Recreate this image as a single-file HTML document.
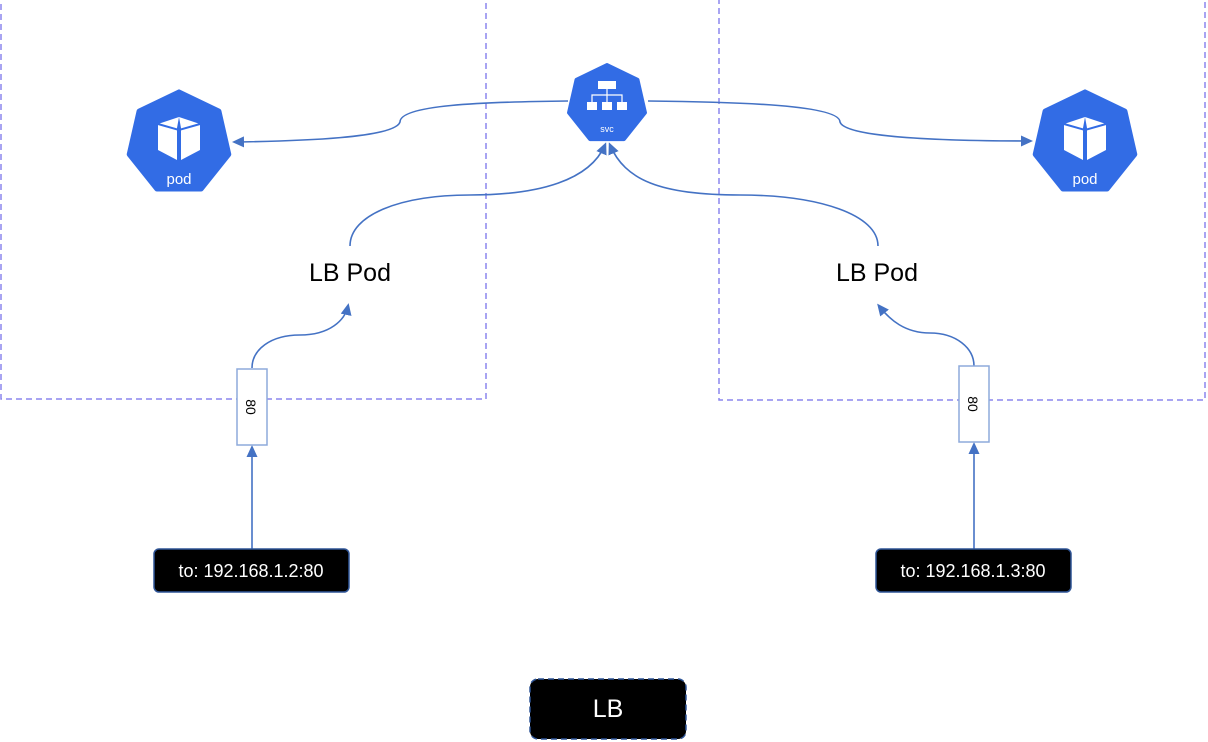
<!DOCTYPE html>
<html><head><meta charset="utf-8"><style>
html,body{margin:0;padding:0;background:#fff;}
svg{display:block;font-family:"Liberation Sans",sans-serif;}
</style></head><body>
<svg width="1208" height="742" viewBox="0 0 1208 742" xmlns="http://www.w3.org/2000/svg">
<defs>
<marker id="ar" markerWidth="12" markerHeight="12" refX="9" refY="6" orient="auto" markerUnits="userSpaceOnUse">
<path d="M0,0.5 L12,6 L0,11.5 z" fill="#4472c4"/></marker>
<polygon id="hep" points="0,-1 0.782,-0.623 0.975,0.223 0.434,0.901 -0.434,0.901 -0.975,0.223 -0.782,-0.623" stroke-linejoin="round"/>
</defs>
<rect x="1" y="-2" width="485" height="401" fill="none" stroke="#8b86ee" stroke-width="1.5" stroke-dasharray="6,4"/>
<rect x="719" y="-2" width="486" height="402" fill="none" stroke="#8b86ee" stroke-width="1.5" stroke-dasharray="6,4"/>

<g fill="none" stroke="#4472c4" stroke-width="1.6">
<path d="M568,101 C480,102 400,105 400,122 C395,138 300,141 235,142" marker-end="url(#ar)"/>
<path d="M648,101 C740,102 840,105 840,122 C845,138 950,141 1030,141" marker-end="url(#ar)"/>
<path d="M350,246 C350,215 400,195 470,195 C540,195 590,180 605,145" marker-end="url(#ar)"/>
<path d="M878,246 C878,215 820,195 740,195 C660,195 625,180 610,145" marker-end="url(#ar)"/>
<path d="M252,368 C252,350 270,335 300,335 C330,335 345,320 348,306" marker-end="url(#ar)"/>
<path d="M974,366 C974,348 956,333 930,333 C905,333 890,320 879,306" marker-end="url(#ar)"/>
<path d="M252,549 L252,448" marker-end="url(#ar)"/>
<path d="M974,549 L974,445" marker-end="url(#ar)"/>
</g>

<g transform="translate(179,143) scale(51)" fill="#326ce5" stroke="#326ce5" stroke-width="0.1"><use href="#hep"/></g>
<g transform="translate(1085,143) scale(51)" fill="#326ce5" stroke="#326ce5" stroke-width="0.1"><use href="#hep"/></g>
<g fill="#fff">
<path d="M179,117 L200,124 L200,150 L181,160 L181,128 Z M179,117 L158,124 L158,150 L177,160 L177,128 Z" />
<path d="M1085,117 L1106,124 L1106,150 L1087,160 L1087,128 Z M1085,117 L1064,124 L1064,150 L1083,160 L1083,128 Z"/>
</g>
<path d="M158,124 L179,130 L200,124 M1064,124 L1085,130 L1106,124" stroke="#326ce5" stroke-width="2" fill="none"/>
<text x="179" y="184" font-size="15" fill="#fff" text-anchor="middle">pod</text>
<text x="1085" y="184" font-size="15" fill="#fff" text-anchor="middle">pod</text>

<g transform="translate(607,104) scale(39)" fill="#326ce5" stroke="#326ce5" stroke-width="0.1"><use href="#hep"/></g>
<g fill="#fff" stroke="#fff">
<rect x="598" y="81" width="18" height="8" stroke="none"/>
<path d="M607,89 V95 M592,102 V95 H622 V102 M607,95 V102" fill="none" stroke-width="1.2"/>
<rect x="587" y="102" width="10" height="8" stroke="none"/>
<rect x="602" y="102" width="10" height="8" stroke="none"/>
<rect x="617" y="102" width="10" height="8" stroke="none"/>
</g>
<text x="607" y="132" font-size="9" fill="#fff" text-anchor="middle">svc</text>

<text x="350" y="281" font-size="25" text-anchor="middle" fill="#000">LB Pod</text>
<text x="877" y="281" font-size="25" text-anchor="middle" fill="#000">LB Pod</text>

<rect x="237" y="369" width="30" height="76" fill="#fff" stroke="#8eaadb" stroke-width="1.5"/>
<text transform="translate(246,407) rotate(90)" font-size="14" text-anchor="middle" fill="#000">80</text>
<rect x="959" y="366" width="30" height="76" fill="#fff" stroke="#8eaadb" stroke-width="1.5"/>
<text transform="translate(968,404) rotate(90)" font-size="14" text-anchor="middle" fill="#000">80</text>

<rect x="154" y="549" width="195" height="43" rx="5" fill="#000" stroke="#2f5597" stroke-width="1.5"/>
<text x="251" y="577" font-size="18" fill="#fff" text-anchor="middle">to: 192.168.1.2:80</text>
<rect x="876" y="549" width="195" height="43" rx="5" fill="#000" stroke="#2f5597" stroke-width="1.5"/>
<text x="973" y="577" font-size="18" fill="#fff" text-anchor="middle">to: 192.168.1.3:80</text>

<rect x="530" y="679" width="156" height="60" rx="8" fill="#000" stroke="#2f5597" stroke-width="1.5" stroke-dasharray="6,4"/>
<text x="608" y="717" font-size="25" fill="#fff" text-anchor="middle">LB</text>
</svg>
</body></html>
